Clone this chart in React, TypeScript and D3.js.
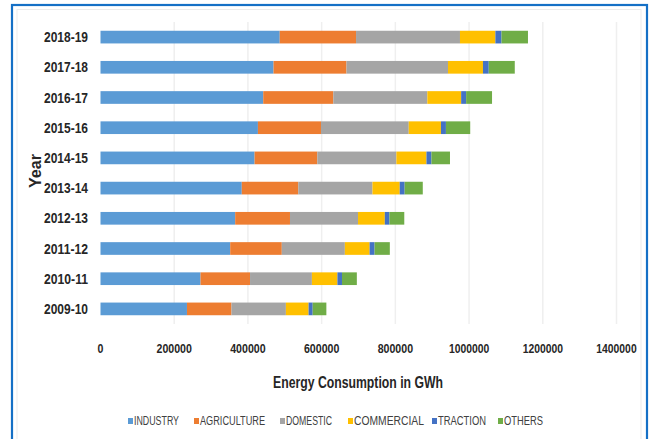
import React from "react";
import * as d3 from "d3";

const years = ["2009-10", "2010-11", "2011-12", "2012-13", "2013-14", "2014-15", "2015-16", "2016-17", "2017-18", "2018-19"];
const industry = [234600, 271400, 351900, 365400, 383300, 418000, 427100, 441500, 469500, 486300];
const agriculture = [120800, 134300, 140000, 148700, 153300, 170200, 171100, 190200, 197900, 207000];
const domestic = [147600, 167900, 171100, 184600, 201300, 214600, 238100, 255100, 275400, 282000];
const commercial = [61600, 69200, 67100, 72700, 73900, 81600, 87400, 91700, 94900, 96100];
const traction = [11100, 12400, 13500, 12500, 13400, 13500, 13500, 13500, 15700, 16600];
const others = [37100, 40300, 41400, 40300, 49200, 50300, 65900, 70300, 70600, 71800];
const seriesNames = ["INDUSTRY", "AGRICULTURE", "DOMESTIC", "COMMERCIAL", "TRACTION", "OTHERS"];
const xTicks = [0, 200000, 400000, 600000, 800000, 1000000, 1200000, 1400000];

const colors = ["#5B9BD5", "#ED7D31", "#A5A5A5", "#FFC000", "#4472C4", "#70AD47"];
const FONT = "'Liberation Sans', Arial, sans-serif";

export default function App() {
  const W = 649, H = 439;
  const seriesValues = [industry, agriculture, domestic, commercial, traction, others];
  const rows = years.map((y, i) => {
    const r: any = { year: y };
    seriesNames.forEach((s, k) => (r[s] = seriesValues[k][i]));
    return r;
  });
  const stack = d3.stack<any>().keys(seriesNames)(rows);

  const x = d3.scaleLinear().domain([0, 1400000]).range([100.5, 616.5]);
  const y = d3
    .scaleBand<string>()
    .domain([...years].reverse())
    .range([22, 324])
    .paddingInner(0.58)
    .paddingOuter(0.29);

  const legendX = [129, 195, 281, 349, 433, 499];
  const legendW = [45, 65, 46, 70, 48, 39];

  return (
    <svg width={W} height={H} style={{ position: "absolute", left: 0, top: 0 }} fontFamily={FONT}>
      <rect x={0} y={0} width={W} height={H} fill="#ffffff" />
      <rect x={17} y={9.5} width={624} height={440} fill="none" stroke="#ebebeb" strokeWidth={1} />
      <rect x={12} y={5} width={635} height={445} fill="none" stroke="#1570C6" strokeWidth={2.2} />
      {xTicks.slice(1).map((t) => (
        <line key={t} x1={x(t)} x2={x(t)} y1={22} y2={324} stroke="#efefef" strokeWidth={1.5} />
      ))}
      {stack.map((s, k) => (
        <g key={s.key} fill={colors[k]}>
          {s.map((d, i) => (
            <rect
              key={i}
              x={x(d[0])}
              y={y(d.data.year)}
              width={x(d[1]) - x(d[0])}
              height={y.bandwidth()}
            />
          ))}
        </g>
      ))}
      {years.map((yr) => (
        <text
          key={yr}
          x={88}
          y={(y(yr) as number) + y.bandwidth() / 2}
          textAnchor="end"
          dominantBaseline="central"
          fontSize={14}
          fontWeight="bold"
          fill="#262626"
          textLength={44}
          lengthAdjust="spacingAndGlyphs"
        >
          {yr}
        </text>
      ))}
      {xTicks.map((t) => (
        <text
          key={t}
          x={x(t)}
          y={348}
          textAnchor="middle"
          dominantBaseline="central"
          fontSize={13}
          fontWeight="bold"
          fill="#262626"
          textLength={String(t).length * 5.9 + (String(t).startsWith("1") ? -1 : 0)}
          lengthAdjust="spacingAndGlyphs"
        >
          {t}
        </text>
      ))}
      <text
        x={358}
        y={382}
        textAnchor="middle"
        dominantBaseline="central"
        fontSize={16}
        fontWeight="bold"
        fill="#262626"
        textLength={170}
        lengthAdjust="spacingAndGlyphs"
      >
        Energy Consumption in GWh
      </text>
      <text
        transform="translate(35,171) rotate(-90)"
        textAnchor="middle"
        dominantBaseline="central"
        fontSize={16}
        fontWeight="bold"
        fill="#262626"
        textLength={34}
        lengthAdjust="spacingAndGlyphs"
      >
        Year
      </text>
      {seriesNames.map((s, k) => (
        <g key={s} transform={`translate(${legendX[k]},421)`}>
          <rect x={-1} y={-3} width={5} height={6} fill={colors[k]} />
          <text
            x={5}
            y={0}
            dominantBaseline="central"
            fontSize={12}
            fill="#404040"
            textLength={legendW[k]}
            lengthAdjust="spacingAndGlyphs"
          >
            {s}
          </text>
        </g>
      ))}
    </svg>
  );
}
